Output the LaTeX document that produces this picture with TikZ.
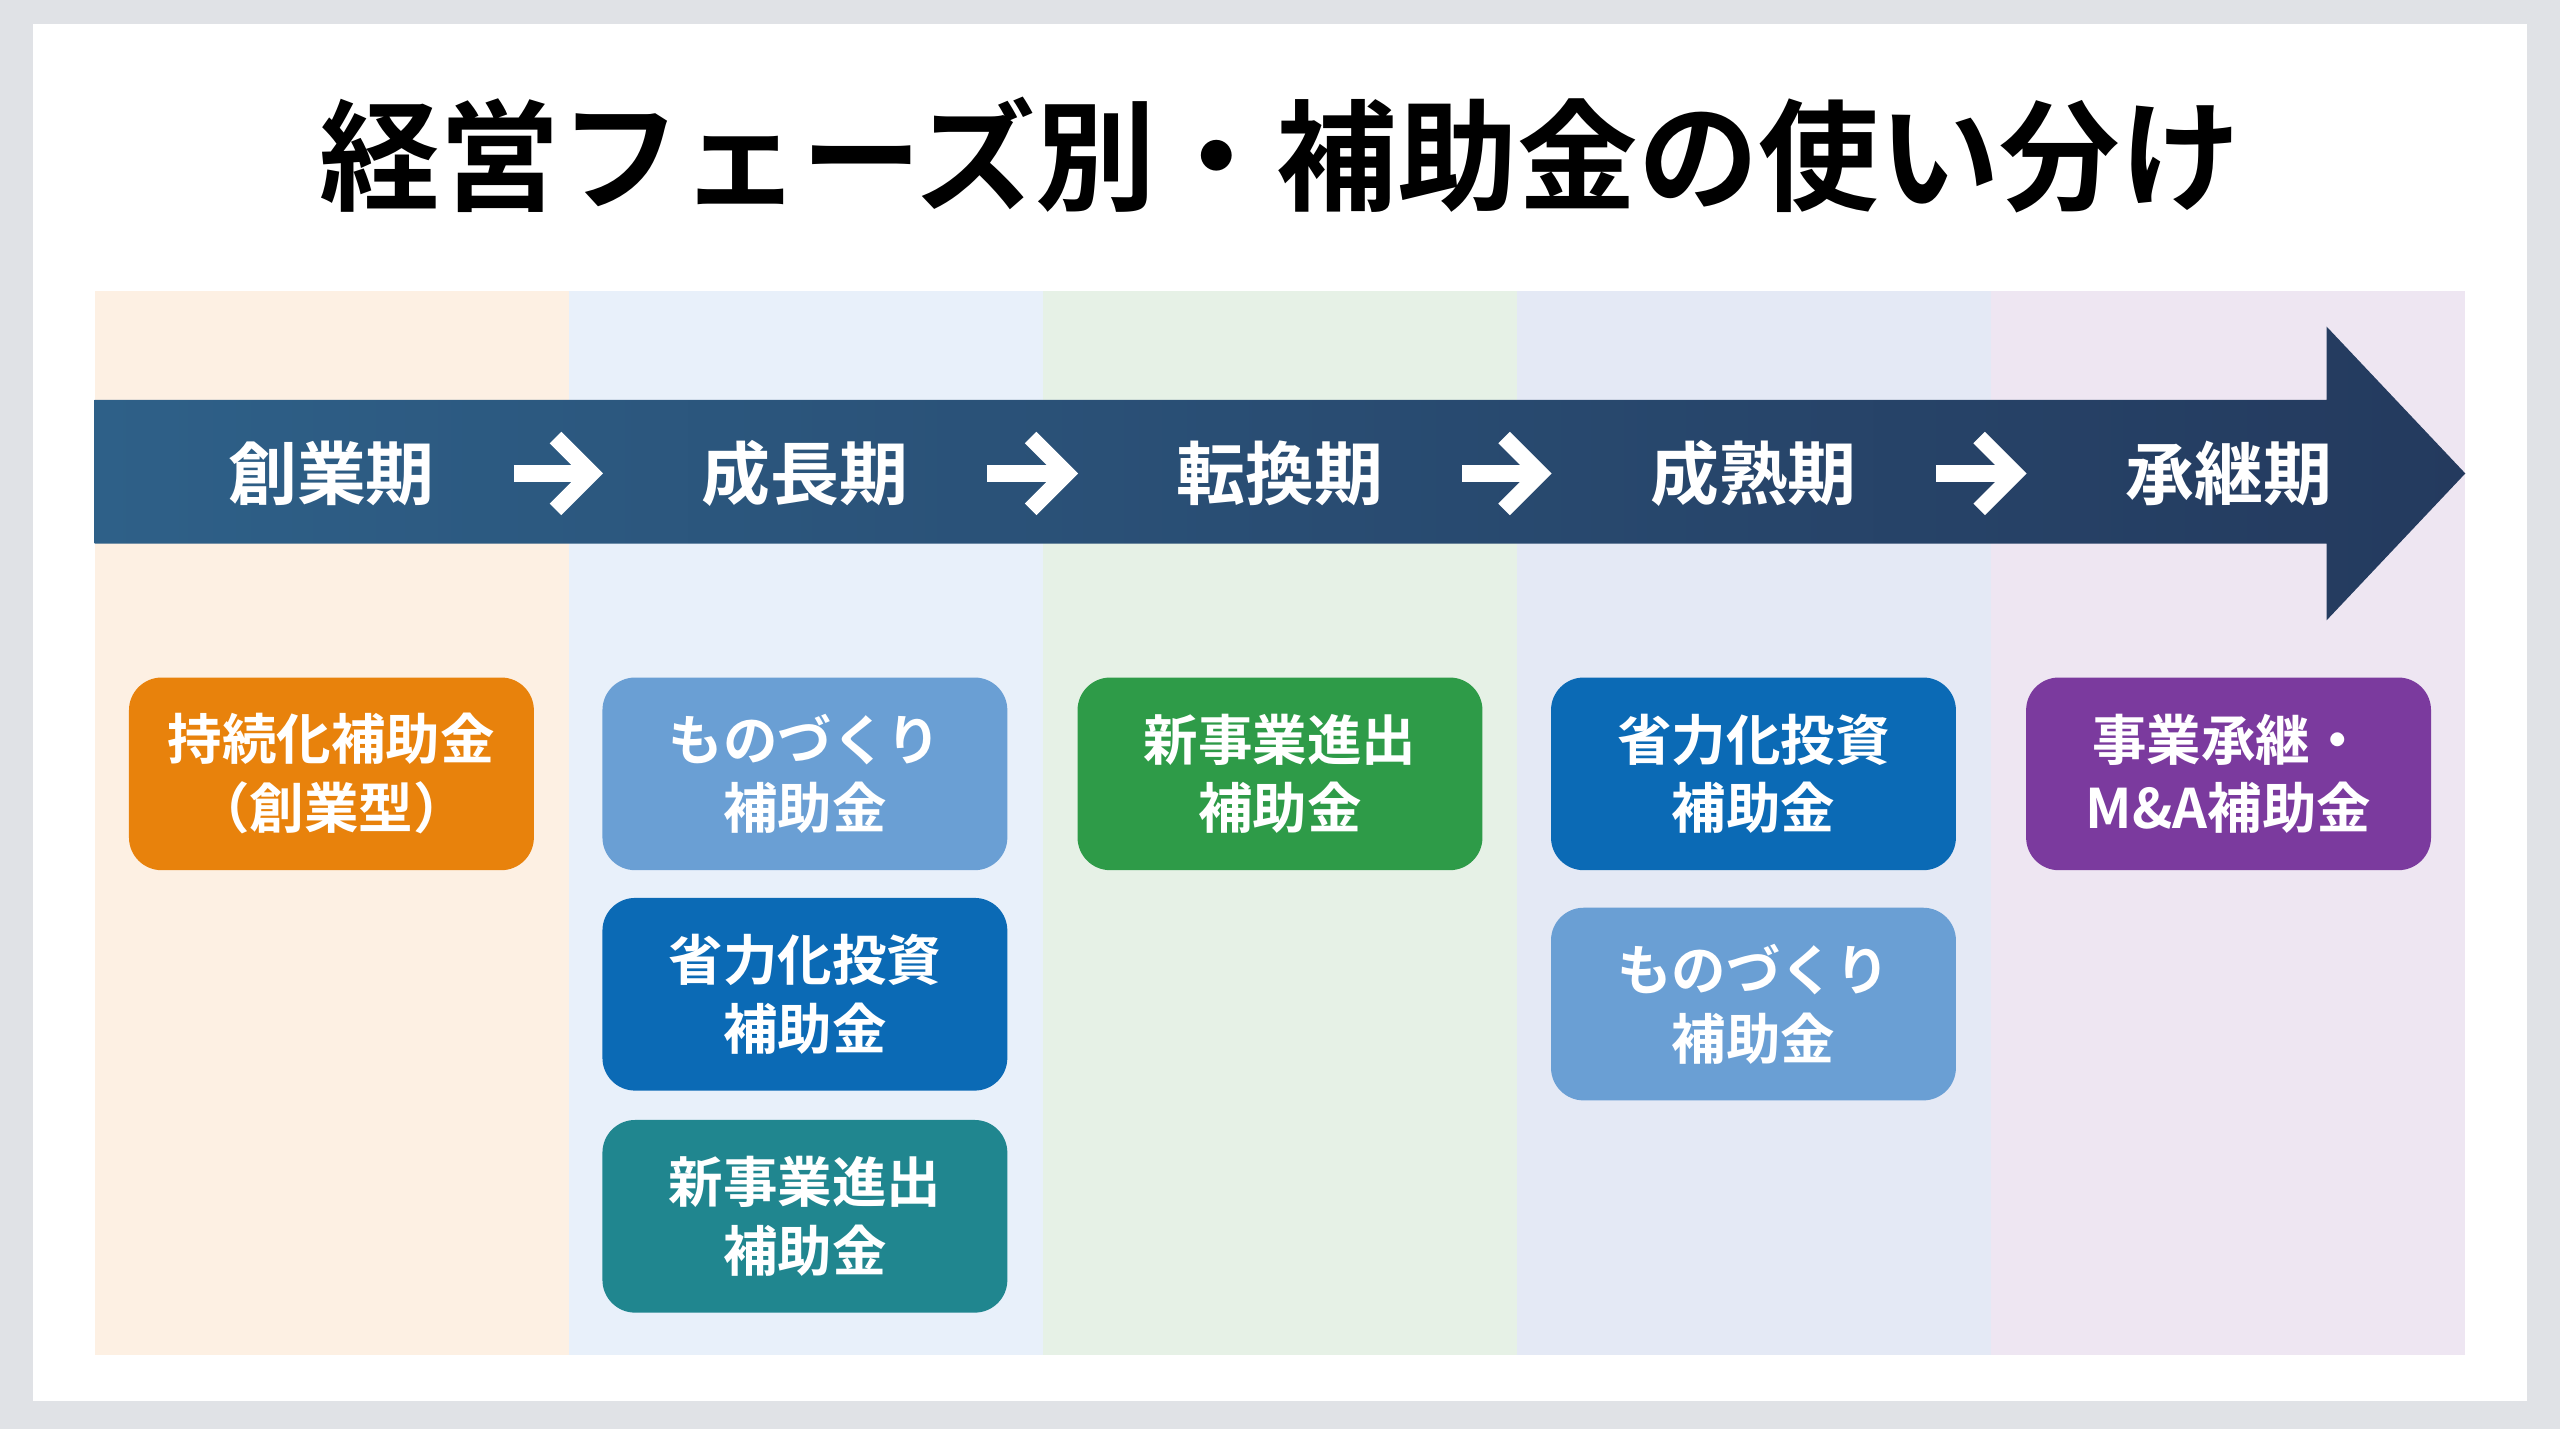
\documentclass[tikz,border=0pt]{standalone}
\usepackage{fontspec}
\setmainfont{Noto Sans CJK JP}[BoldFont={Noto Sans CJK JP Bold}]
\usetikzlibrary{arrows.meta}
\newlength{\du}
\setlength{\du}{0.1mm}
\definecolor{pagegray}{HTML}{E0E2E6}
\definecolor{colA}{HTML}{FDF0E3}
\definecolor{colB}{HTML}{E8F0FA}
\definecolor{colC}{HTML}{E6F1E6}
\definecolor{colD}{HTML}{E4E9F5}
\definecolor{colE}{HTML}{EEE6F2}
\definecolor{bandL}{HTML}{2E6088}
\definecolor{bandR}{HTML}{243A5E}
\definecolor{subOrange}{HTML}{E8820C}
\definecolor{subLight}{HTML}{6A9FD4}
\definecolor{subBlue}{HTML}{0B6AB5}
\definecolor{subGreen}{HTML}{2E9B48}
\definecolor{subTeal}{HTML}{20868F}
\definecolor{subPurple}{HTML}{7B3A9E}
\tikzset{
  phase/.style={text=white,font=\bfseries\fontsize{12}{14}\selectfont},
  subsidy/.style={rounded corners=2mm,minimum width=248\du,minimum height=118\du,
    text=white,align=center,font=\bfseries\fontsize{9.5}{12}\selectfont,inner sep=0pt},
  phasearrow/.style={white,line width=1mm,-{Straight Barb[length=2.2mm,width=4.4mm]},shorten <=36\du,shorten >=48\du}
}
\begin{document}
\begin{tikzpicture}[x=\du,y=-\du]
\fill[pagegray] (0,0) rectangle (1568,875);
\fill[white] (20,15) rectangle (1548,858);
% title
\node (title) at (784,95) {\bfseries\fontsize{21}{24}\selectfont 経営フェーズ別・補助金の使い分け};
% column backgrounds
\fill[colA] (58,178) rectangle (348.4,830);
\fill[colB] (348.4,178) rectangle (638.8,830);
\fill[colC] (638.8,178) rectangle (929.2,830);
\fill[colD] (929.2,178) rectangle (1219.6,830);
\fill[colE] (1219.6,178) rectangle (1510,830);
% phase band
\shade[left color=bandL,right color=bandR] (58,245) -- (1425,245) -- (1425,200) -- (1510,290)
  -- (1425,380) -- (1425,333) -- (58,333) -- cycle;
\node[phase] (p1) at (203,290) {創業期};
\node[phase] (p2) at (493,290) {成長期};
\node[phase] (p3) at (784,290) {転換期};
\node[phase] (p4) at (1074,290) {成熟期};
\node[phase] (p5) at (1365,290) {承継期};
\foreach \a/\b in {p1/p2,p2/p3,p3/p4,p4/p5}
  \draw[phasearrow] (\a.east) -- (\b.west);
% subsidies
\node[subsidy,fill=subOrange] (s11) at (203,474) {持続化補助金\\（創業型）};
\node[subsidy,fill=subLight] (s21) at (493,474) {ものづくり\\補助金};
\node[subsidy,fill=subBlue] (s22) at (493,609) {省力化投資\\補助金};
\node[subsidy,fill=subTeal] (s23) at (493,745) {新事業進出\\補助金};
\node[subsidy,fill=subGreen] (s31) at (784,474) {新事業進出\\補助金};
\node[subsidy,fill=subBlue] (s41) at (1074,474) {省力化投資\\補助金};
\node[subsidy,fill=subLight] (s42) at (1074,615) {ものづくり\\補助金};
\node[subsidy,fill=subPurple] (s51) at (1365,474) {事業承継・\\M\&A補助金};
\end{tikzpicture}
\end{document}
